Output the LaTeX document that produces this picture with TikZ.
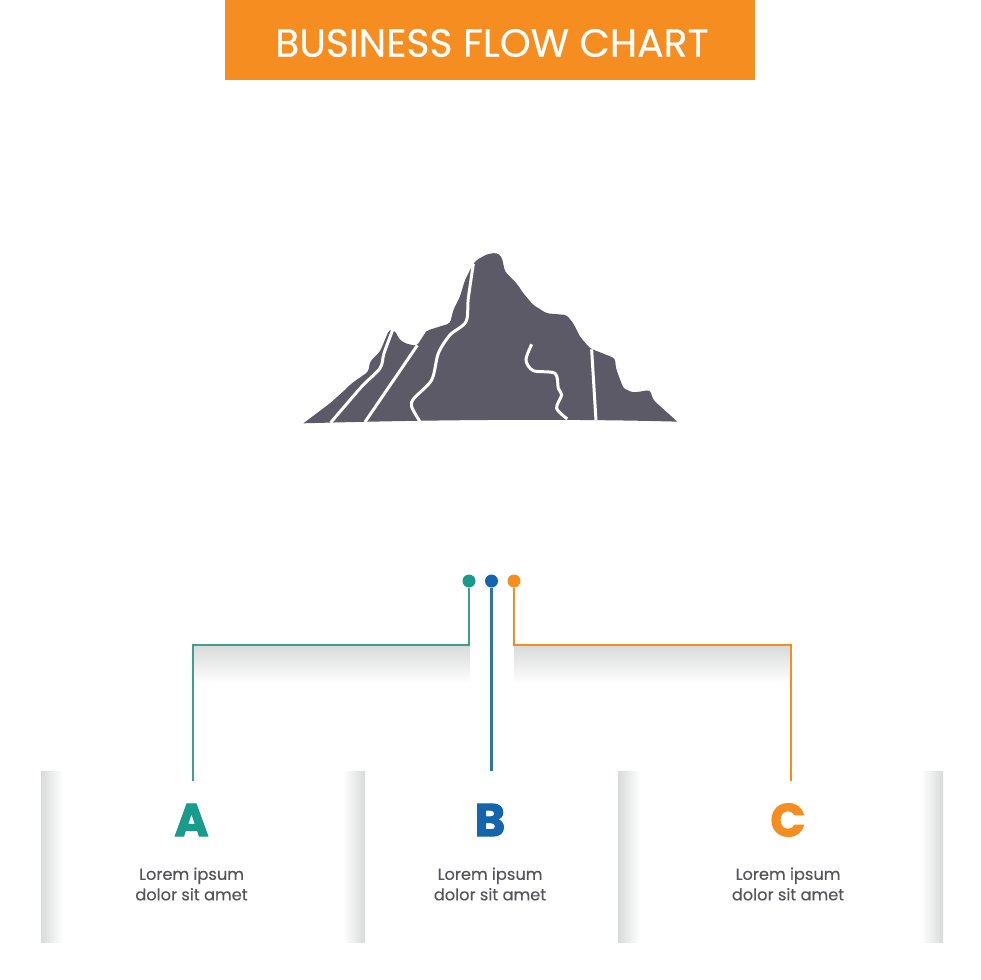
\documentclass[tikz,border=0pt]{standalone}
\usepackage{fontspec}
\setmainfont{Poppins}[FakeBold=0.3]
\newfontfamily\letterfont{Poppins}[BoldFeatures={FakeBold=2.5}]
\definecolor{teal1}{HTML}{1A9A8A}
\definecolor{blue1}{HTML}{1565AD}
\definecolor{orange1}{HTML}{F68D20}
\definecolor{rock}{HTML}{5C5A66}
\definecolor{greytext}{HTML}{55545C}
\definecolor{edgegrey}{HTML}{D8DADA}
\definecolor{wireteal}{HTML}{3F9E92}
\definecolor{wireblue}{HTML}{2F75A8}
\tikzstyle{titlestyle} = [rectangle, 
minimum width=530pt, 
minimum height=80pt,
text centered,
inner sep=0pt,
fill=orange1, 
text=white]
\tikzstyle{edgeleft} = [rectangle, 
minimum width=22pt, 
minimum height=171pt,
inner sep=0pt,
left color=edgegrey,
right color=white]
\tikzstyle{edgeright} = [rectangle, 
minimum width=22pt, 
minimum height=171pt,
inner sep=0pt,
left color=white,
right color=edgegrey]
\tikzstyle{shadowstyle} = [rectangle, 
minimum width=277pt, 
minimum height=38pt,
inner sep=0pt,
top color=edgegrey,
bottom color=white]
\tikzstyle{dotstyle} = [circle, 
minimum size=13pt,
inner sep=0pt]
\tikzstyle{letterstyle} = [inner sep=0pt,
font=\letterfont\bfseries\fontsize{46}{46}\selectfont]
\tikzstyle{textstyle} = [inner sep=0pt,
align=center,
text=greytext,
font=\fontsize{16.2}{20.5}\selectfont]
\tikzstyle{wire} = [line width=1.8pt]
\tikzstyle{crack} = [white, line width=3pt, line join=round]

\begin{document}
\begin{tikzpicture}[x=1pt, y=-1pt, node distance=52pt]
\useasboundingbox (0,0) rectangle (980,980);

\node (title) [titlestyle] at (490,40) {};
\node (titletext) [text=white, inner sep=0pt, font=\fontsize{39.3}{39.3}\selectfont] at (492,43) {BUSINESS FLOW CHART};

% mountain
\begin{scope}[shift={(290,240)}, x=0.3333pt, y=-0.3333pt]
\fill [rock, rounded corners=3pt] (40,550) -- (120,490) -- (170,445) -- (185,430) -- (235,395) -- (240,365) -- (270,335)
 -- (298,268) -- (318,275) -- (325,295) -- (345,310) -- (380,318) -- (405,280) -- (410,272)
 -- (480,250) -- (490,210) -- (510,170) -- (525,120) -- (548,75) -- (560,60) -- (590,43)
 -- (620,38) -- (635,50) -- (645,95) -- (680,130) -- (700,160) -- (730,195) -- (770,220) -- (830,225)
 -- (850,250) -- (870,290) -- (900,325) -- (975,355) -- (978,385) -- (1000,445) -- (1030,458)
 -- (1080,450) -- (1090,480) [sharp corners] -- (1162,545) .. controls (800,535) and (400,540) .. (40,550) -- cycle;
\draw [crack] plot [smooth, tension=0.5] coordinates {(308,270) (282,340) (270,385) (215,440) (122,548)};
\draw [crack] (382,316) -- (225,546);
\draw [crack] plot [smooth, tension=0.5] coordinates {(550,72) (535,175) (528,245) (480,285) (445,340) (425,420) (372,475) (365,500) (390,545)};
\draw [crack] plot [smooth, tension=0.5] coordinates {(725,313) (708,360) (730,392) (795,400) (805,445) (815,465) (800,505) (832,537)};
\draw [crack] (905,328) -- (918,541);
\end{scope}

% panel edges
\node (edgea) [edgeleft] at (52,856.5) {};
\node (edgeb) [edgeright] at (354,856.5) {};
\node (edgec) [edgeleft] at (629,856.5) {};
\node (edged) [edgeright] at (932,856.5) {};

\node (shadowa) [shadowstyle] at (331.5,664) {};
\node (shadowc) [shadowstyle] at (652.5,664) {};

\node (dota) [dotstyle, fill=teal1] at (469,581) {};
\node (dotb) [dotstyle, fill=blue1] at (491.5,581) {};
\node (dotc) [dotstyle, fill=orange1] at (514,581) {};

\node (lettera) [letterstyle, text=teal1] at (191.5,820) {A};
\node (letterb) [letterstyle, text=blue1] at (490,820) {B};
\node (letterc) [letterstyle, text=orange1] at (788,820) {C};

\node (texta) [textstyle, below of=lettera, yshift=-12pt] {Lorem ipsum\\dolor sit amet};
\node (textb) [textstyle, below of=letterb, yshift=-12pt] {Lorem ipsum\\dolor sit amet};
\node (textc) [textstyle, below of=letterc, yshift=-12pt] {Lorem ipsum\\dolor sit amet};

\coordinate (enda) at (193,781);
\coordinate (endb) at (491.5,771);
\coordinate (endc) at (791,781);

\draw [wire, draw=wireteal] (dota) -- (dota |- 0,645) -- (enda |- 0,645) -- (enda);
\draw [wire, draw=wireblue, line width=2.2pt] (dotb) -- (endb);
\draw [wire, draw=orange1] (dotc) -- (dotc |- 0,645) -- (endc |- 0,645) -- (endc);
\end{tikzpicture}
\end{document}
